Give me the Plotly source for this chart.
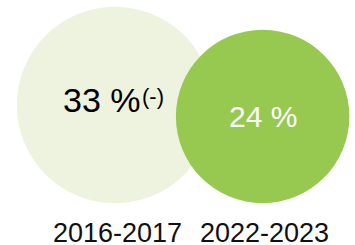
import plotly.graph_objects as go

# Data
periods = ["2016-2017", "2022-2023"]
values = [33, 24]
value_labels = ["33 %", "24 %"]
notes = ["(-)", ""]

# Styles
fill_colors = ["#EEF3DF", "#97C951"]
text_colors = ["#000000", "#FFFFFF"]
value_font_sizes = [34, 30]
value_xshifts = [-13, 0]
value_yshifts = [5, 0]
FONT = "Liberation Sans, Arial, sans-serif"

W, H = 355, 245
R_MAX = 98.2
EXP = 0.39
BASELINE = 203.2
LEFT = 16.8
OVERLAP = 37.3

vmax = max(values)
radii = [R_MAX * (v / vmax) ** EXP for v in values]
centers_x = []
for i, r in enumerate(radii):
    if i == 0:
        cx = LEFT + r
    else:
        cx = centers_x[-1] + radii[i - 1] + r - OVERLAP
    centers_x.append(cx)
centers_y = [BASELINE - r for r in radii]

fig = go.Figure()
fig.add_trace(go.Scatter(x=centers_x, y=centers_y, mode="markers",
                         marker=dict(opacity=0), hoverinfo="skip", showlegend=False))

shapes = []
for cx, cy, r, col in zip(centers_x, centers_y, radii, fill_colors):
    shapes.append(dict(type="circle", xref="x", yref="y",
                       x0=cx - r, x1=cx + r, y0=cy - r, y1=cy + r,
                       fillcolor=col, line=dict(width=0), layer="below"))

annotations = []
for i, (cx, cy) in enumerate(zip(centers_x, centers_y)):
    annotations.append(dict(x=cx, y=cy, xref="x", yref="y", text=value_labels[i],
                            showarrow=False, xanchor="center", yanchor="middle",
                            font=dict(family=FONT, size=value_font_sizes[i],
                                      color=text_colors[i]),
                            xshift=value_xshifts[i], yshift=value_yshifts[i]))
    if notes[i]:
        annotations.append(dict(x=cx, y=cy, xref="x", yref="y", text=notes[i],
                                showarrow=False, xanchor="center", yanchor="middle",
                                font=dict(family=FONT, size=22, color=text_colors[i]),
                                xshift=38, yshift=9))
    annotations.append(dict(x=cx, y=BASELINE, xref="x", yref="y", text=periods[i],
                            showarrow=False, xanchor="center", yanchor="top",
                            yshift=-13, xshift=2,
                            font=dict(family=FONT, size=27, color="#111111")))

fig.update_layout(
    width=W, height=H,
    margin=dict(l=0, r=0, t=0, b=0),
    paper_bgcolor="white", plot_bgcolor="white",
    xaxis=dict(range=[0, W], visible=False, fixedrange=True),
    yaxis=dict(range=[H, 0], visible=False, fixedrange=True),
    shapes=shapes, annotations=annotations, showlegend=False,
)

fig.write_html("out.html", config={"displayModeBar": False},
               post_script="document.body.style.margin='0';document.body.style.overflow='hidden';")
